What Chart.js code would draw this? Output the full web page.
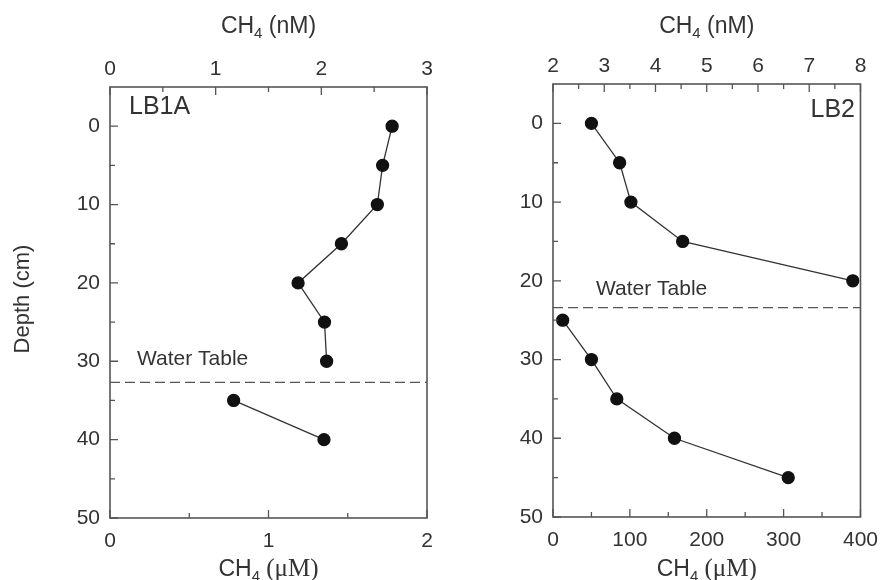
<!DOCTYPE html>
<html lang="en">
<head>
<meta charset="UTF-8">
<title>CH4 depth profiles LB1A / LB2</title>
<script src="https://cdn.jsdelivr.net/npm/chart.js"></script>
<style>
  body { margin: 0; background: #fff; }
  #wrap { position: relative; width: 889px; height: 580px; overflow: hidden; }
  #wrap canvas { position: absolute; top: 0; }
</style>
</head>
<body>
<div id="wrap">
  <canvas id="lb1a" width="445" height="580" style="left:0"></canvas>
  <canvas id="lb2" width="444" height="580" style="left:445px"></canvas>
</div>
<script>
// depths in cm, CH4 above the water table in nM (top axis), below it in uM (bottom axis)
const lb1aDepthUpper = [0, 5, 10, 15, 20, 25, 30];
const lb1aCh4nM = [2.67, 2.58, 2.53, 2.19, 1.78, 2.03, 2.05];
const lb1aDepthLower = [35, 40];
const lb1aCh4uM = [0.78, 1.35];
const lb1aWaterTable = 32.7;

const lb2DepthUpper = [0, 5, 10, 15, 20];
const lb2Ch4nM = [2.75, 3.30, 3.52, 4.53, 7.85];
const lb2DepthLower = [25, 30, 35, 40, 45];
const lb2Ch4uM = [12.6, 50, 83, 158, 306];
const lb2WaterTable = 23.4;

const depthTicks = [0, 10, 20, 30, 40, 50];

const SANS = "'Liberation Sans', Arial, sans-serif";
const SERIF = "'Liberation Serif', 'Times New Roman', serif";
Chart.defaults.font.family = SANS;
Chart.defaults.color = '#333';

function pts(xs, ys) {
  return xs.map((x, i) => ({ x: x, y: ys[i] }));
}

// box + inward tick marks
const frame = {
  id: 'frame',
  afterDraw(chart, args, o) {
    const ctx = chart.ctx, a = chart.chartArea;
    ctx.save();
    ctx.strokeStyle = '#555';
    ctx.lineWidth = 1.6;
    ctx.strokeRect(a.left, a.top, a.right - a.left, a.bottom - a.top);
    ctx.lineWidth = 1.3;
    const marks = (scale, from, to, minor, major, draw) => {
      for (let v = from; v <= to + 1e-9; v += minor) {
        const big = Math.abs(v / major - Math.round(v / major)) < 1e-6;
        draw(scale.getPixelForValue(v), big ? 8 : 5);
      }
    };
    const sx = chart.scales;
    ctx.beginPath();
    marks(sx.xTop, sx.xTop.min, sx.xTop.max, o.topMinor, o.topMajor, (p, l) => { ctx.moveTo(p, a.top); ctx.lineTo(p, a.top + l); });
    marks(sx.xBot, sx.xBot.min, sx.xBot.max, o.botMinor, o.botMajor, (p, l) => { ctx.moveTo(p, a.bottom); ctx.lineTo(p, a.bottom - l); });
    marks(sx.y, 0, 50, 5, 10, (p, l) => { ctx.moveTo(a.left, p); ctx.lineTo(a.left + l, p); });
    ctx.stroke();
    ctx.restore();
  }
};

// axis titles and annotations
function ch4Title(ctx, cx, baseline, unit, serifUnit) {
  const big = '23px ' + SANS, small = '15px ' + SANS;
  const unitFont = serifUnit ? '25px ' + SERIF : big;
  ctx.font = big; const w1 = ctx.measureText('CH').width;
  ctx.font = small; const w2 = ctx.measureText('4').width;
  ctx.font = unitFont; const w3 = ctx.measureText(' (' + unit + ')').width;
  let x = cx - (w1 + w2 + w3) / 2;
  ctx.textAlign = 'left';
  ctx.textBaseline = 'alphabetic';
  ctx.font = big; ctx.fillText('CH', x, baseline); x += w1;
  ctx.font = small; ctx.fillText('4', x, baseline + 5); x += w2;
  ctx.font = unitFont; ctx.fillText(' (' + unit + ')', x, baseline);
}

const labels = {
  id: 'labels',
  afterDraw(chart, args, o) {
    const ctx = chart.ctx, a = chart.chartArea;
    const cx = (a.left + a.right) / 2;
    ctx.save();
    ctx.fillStyle = '#333';
    ch4Title(ctx, cx, 33, 'nM', false);
    ch4Title(ctx, cx, 576, '\u03BCM', true);
    ctx.font = '25px ' + SANS;
    ctx.textAlign = o.site.align;
    ctx.fillText(o.site.text, o.site.x, o.site.y);
    ctx.font = '21px ' + SANS;
    ctx.textAlign = 'left';
    const wy = chart.scales.y.getPixelForValue(o.waterTable);
    ctx.fillText('Water Table', a.left + o.wtDx, wy - o.wtDy);
    if (o.depthTitle) {
      ctx.font = '22px ' + SANS;
      ctx.translate(23, 299);
      ctx.rotate(-Math.PI / 2);
      ctx.textAlign = 'center';
      ctx.textBaseline = 'middle';
      ctx.fillText('Depth (cm)', 0, 0);
    }
    ctx.restore();
  }
};

function makePanel(id, p) {
  const line = { borderColor: '#333', borderWidth: 1.3, pointRadius: 6, pointBackgroundColor: '#111', pointBorderColor: '#111', showLine: true };
  return new Chart(document.getElementById(id), {
    type: 'scatter',
    data: {
      datasets: [
        Object.assign({ data: pts(p.upperX, p.upperY), xAxisID: 'xTop' }, line),
        Object.assign({ data: pts(p.lowerX, p.lowerY), xAxisID: 'xBot' }, line),
        {
          data: pts([p.top.min, p.top.max], [p.waterTable, p.waterTable]),
          xAxisID: 'xTop', showLine: true, pointRadius: 0,
          borderColor: '#555', borderWidth: 1.3, borderDash: [10, 5]
        }
      ]
    },
    options: {
      responsive: false,
      animation: false,
      devicePixelRatio: 1,
      layout: { padding: { left: 0, right: p.padRight, top: 0, bottom: 0 } },
      plugins: {
        legend: { display: false },
        tooltip: { enabled: false },
        frame: { topMinor: p.top.minor, topMajor: p.top.step, botMinor: p.bot.minor, botMajor: p.bot.step },
        labels: { site: p.site, waterTable: p.waterTable, wtDx: p.wtDx, wtDy: p.wtDy, depthTitle: p.depthTitle }
      },
      scales: {
        xTop: {
          type: 'linear', position: 'top', min: p.top.min, max: p.top.max,
          ticks: { stepSize: p.top.step, padding: 5, font: { size: 21 }, color: '#333' },
          grid: { display: false, drawTicks: false }, border: { display: false },
          afterFit: s => { s.height = p.area.top; }
        },
        xBot: {
          type: 'linear', position: 'bottom', min: p.bot.min, max: p.bot.max,
          ticks: { stepSize: p.bot.step, padding: 11, font: { size: 21 }, color: '#333' },
          grid: { display: false, drawTicks: false }, border: { display: false },
          afterFit: s => { s.height = 580 - p.area.bottom; }
        },
        y: {
          type: 'linear', position: 'left', min: -5, max: 50, reverse: true,
          afterBuildTicks: s => { s.ticks = depthTicks.map(v => ({ value: v })); },
          ticks: { padding: 10, font: { size: 21 }, color: '#333' },
          grid: { display: false, drawTicks: false }, border: { display: false },
          afterFit: s => { s.width = p.area.left; }
        }
      }
    },
    plugins: [frame, labels]
  });
}

makePanel('lb1a', {
  upperX: lb1aCh4nM, upperY: lb1aDepthUpper,
  lowerX: lb1aCh4uM, lowerY: lb1aDepthLower,
  waterTable: lb1aWaterTable,
  top: { min: 0, max: 3, step: 1, minor: 0.5 },
  bot: { min: 0, max: 2, step: 1, minor: 0.5 },
  area: { left: 110, top: 87, bottom: 518 },
  padRight: 18,
  site: { text: 'LB1A', x: 129, y: 114, align: 'left' },
  wtDx: 27, wtDy: 17,
  depthTitle: true
});

makePanel('lb2', {
  upperX: lb2Ch4nM, upperY: lb2DepthUpper,
  lowerX: lb2Ch4uM, lowerY: lb2DepthLower,
  waterTable: lb2WaterTable,
  top: { min: 2, max: 8, step: 1, minor: 0.5 },
  bot: { min: 0, max: 400, step: 100, minor: 50 },
  area: { left: 108, top: 84, bottom: 517 },
  padRight: 19,
  site: { text: 'LB2', x: 410, y: 117, align: 'right' },
  wtDx: 43, wtDy: 13,
  depthTitle: false
});
</script>
</body>
</html>
